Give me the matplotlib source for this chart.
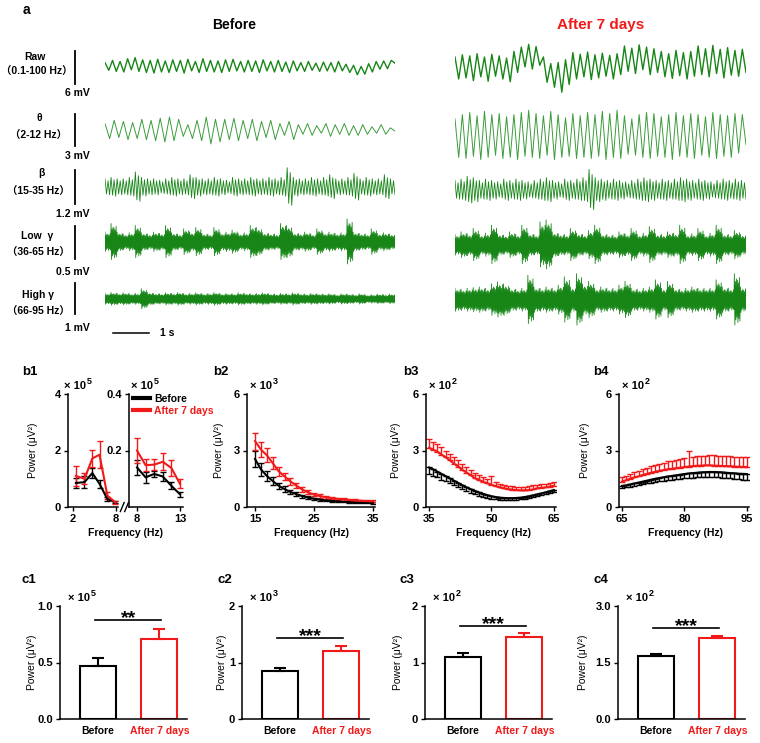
import numpy as np
import matplotlib
matplotlib.use("Agg")
import matplotlib.pyplot as plt
from matplotlib.lines import Line2D

plt.rcParams['font.family'] = ['Liberation Sans', 'Noto Sans CJK SC', 'DejaVu Sans']

# ---------------- data: panel a (traces, mV) ----------------
ROW_NAMES = ['Raw', 'θ', 'β', 'Low  γ', 'High γ']
ROW_BANDS = ['（0.1-100 Hz）', '（2-12 Hz）', '（15-35 Hz）', '（36-65 Hz）', '（66-95 Hz）']
SCALE_MV = [6, 3, 1.2, 0.5, 1]
SCALE_LABELS = ['6 mV', '3 mV', '1.2 mV', '0.5 mV', '1 mV']
TRACE_SECONDS = 8

# successive peak / trough values (mV)
raw_before = [0.8, -0.6, 1.2, -0.8, 1.0, -0.9, 1.5, -0.5, 1.7, -0.8, 1.3, -1.0, 1.2, -1.1, 1.4, -0.9,
              1.1, -1.0, 1.3, -0.8, 1.2, -1.1, 1.4, -0.7, 1.0, -1.0, 1.5, -0.8, 1.2, -0.9, 1.1, -1.0,
              1.3, -0.8, 1.4, -0.7, 1.0, -0.9, 1.2, -0.8, 1.1, -1.0, 1.3, -0.7, 1.0, -0.9, 1.2, -0.8,
              0.9, -1.0, 1.1, -0.7, 0.8, -0.8, 1.0, -0.6, 0.7, -0.8, 0.9, -0.7, 0.8, -0.9, 1.0, -0.7,
              0.5, -1.0, 0.3, -1.4, 0.1, -1.3, 0.6, -0.9, 1.0, -0.4, 1.1, -0.3, 1.2, 0.7]
raw_after = [2.0, -2.0, 2.4, -1.8, 2.2, -2.3, 2.6, -1.6, 2.0, -2.4, 2.5, -1.5, 2.2, -2.0, 1.8, -2.5,
             3.0, -0.8, 3.8, 0.2, 4.3, -0.2, 3.9, 0.5,
             2.0, -2.6, 0.8, -3.5, 1.0, -4.4, 1.5, -3.0,
             2.8, -2.0, 2.5, -1.6, 2.9, -2.1, 2.4, -1.8, 2.7, -1.5, 2.3, -2.0, 2.6, -1.2,
             4.0, -0.6, 3.6, -1.0, 4.2, -0.3, 3.8, -1.2, 3.5, -0.8,
             3.0, -1.6, 2.6, -1.9, 3.2, -1.4, 2.8, -2.0, 3.0, -1.5,
             4.0, -1.2, 3.5, -1.6, 4.1, -1.0, 3.4, -1.8, 3.7, -1.3, 3.2, -1.5, 3.4, -0.8]
theta_before = [0.6, -0.8, 0.9, -0.7, 0.8, -0.9, 0.7, -0.8, 1.0, -0.9, 0.9, -1.0, 1.1, -1.1, 1.2, -1.0,
                1.0, -0.6, 0.5, -0.8, 0.9, -1.0, 1.2, -1.3, 1.0, -1.1, 1.0, -0.9, 1.1, -1.0, 0.9, -0.8,
                1.0, -1.0, 0.8, -0.7, 0.9, -0.9, 0.6, -0.5, 0.8, -0.9, 0.5, -0.4, 0.6, -0.5, 0.4, -0.3,
                0.6, -0.6, 0.5, -0.4, 0.6, -0.5, 0.4, -0.5, 0.5, -0.4, 0.3, -0.3, 0.5, -0.4, 0.2, -0.1]
theta_after = [1.6, -2.0, 2.0, -2.1, 2.2, -1.9, 1.9, -2.2, 2.3, -2.0, 2.0, -1.8, 2.1, -2.1, 1.8, -2.0,
               2.0, -2.2, 2.2, -1.9, 2.4, -2.0, 2.1, -2.1, 1.9, -1.8, 2.3, -2.2, 2.0, -2.0, 1.7, -1.9,
               2.1, -2.1, 1.9, -2.0, 2.2, -2.1, 2.0, -1.9, 2.3, -2.2, 2.1, -2.0, 2.4, -2.1, 1.9, -1.7,
               1.6, -1.8, 2.0, -2.0, 2.2, -2.1, 2.1, -1.9, 1.8, -2.0, 2.0, -2.2, 2.2, -1.9, 1.9, -2.0,
               2.1, -2.1, 2.0, -1.8, 1.8, -2.0, 2.2, -2.1, 2.0, -1.9, 1.9, -2.0, 2.1, -1.6, 2.0, -0.8]
# amplitude envelopes (mV) of the fast bands, read segment by segment
beta_before = [0.3, 0.35, 0.3, 0.3, 0.35, 0.55, 0.35, 0.3, 0.3, 0.25, 0.3, 0.35, 0.3, 0.3, 0.45, 0.35,
               0.3, 0.3, 0.35, 0.3, 0.25, 0.35, 0.3, 0.3, 0.35, 0.3, 0.3, 0.35, 0.3, 0.35, 0.7, 0.35,
               0.3, 0.3, 0.35, 0.3, 0.35, 0.45, 0.3, 0.3, 0.35, 0.5, 0.3, 0.35, 0.3, 0.3, 0.45, 0.3]
beta_after = [0.35, 0.4, 0.5, 0.45, 0.35, 0.4, 0.35, 0.3, 0.4, 0.35, 0.4, 0.35, 0.3, 0.35, 0.4, 0.45,
              0.35, 0.3, 0.4, 0.35, 0.4, 0.45, 0.75, 0.45, 0.4, 0.35, 0.4, 0.35, 0.3, 0.35, 0.4, 0.45,
              0.4, 0.35, 0.4, 0.35, 0.4, 0.45, 0.4, 0.35, 0.4, 0.35, 0.3, 0.35, 0.4, 0.35, 0.4, 0.35]
lowg_before = [0.15, 0.28, 0.15, 0.12, 0.14, 0.25, 0.14, 0.12, 0.15, 0.13, 0.25, 0.14, 0.12, 0.2, 0.15, 0.22,
               0.13, 0.12, 0.22, 0.14, 0.15, 0.18, 0.13, 0.14, 0.25, 0.22, 0.14, 0.13, 0.12, 0.28, 0.25, 0.14,
               0.13, 0.15, 0.12, 0.2, 0.14, 0.15, 0.13, 0.14, 0.35, 0.15, 0.13, 0.12, 0.2, 0.13, 0.14, 0.12]
lowg_after = [0.16, 0.2, 0.17, 0.25, 0.16, 0.18, 0.3, 0.17, 0.15, 0.2, 0.16, 0.3, 0.18, 0.16, 0.35, 0.38,
              0.2, 0.17, 0.16, 0.25, 0.18, 0.16, 0.22, 0.3, 0.17, 0.16, 0.15, 0.2, 0.17, 0.25, 0.16, 0.18,
              0.28, 0.17, 0.16, 0.2, 0.18, 0.3, 0.16, 0.17, 0.25, 0.16, 0.18, 0.3, 0.17, 0.16, 0.22, 0.16]
highg_before = [0.18, 0.21, 0.18, 0.2, 0.17, 0.18, 0.33, 0.21, 0.18, 0.17, 0.2, 0.18, 0.21, 0.17, 0.18, 0.2,
                0.17, 0.18, 0.21, 0.17, 0.18, 0.17, 0.2, 0.18, 0.17, 0.18, 0.2, 0.17, 0.16, 0.18, 0.17, 0.2,
                0.17, 0.16, 0.18, 0.17, 0.16, 0.17, 0.14, 0.17, 0.16, 0.14, 0.17, 0.13, 0.14, 0.16, 0.14, 0.16]
highg_after = [0.38, 0.35, 0.38, 0.4, 0.42, 0.38, 0.52, 0.58, 0.52, 0.38, 0.35, 0.38, 0.8, 0.42, 0.38, 0.42,
               0.38, 0.48, 0.75, 0.42, 0.85, 0.52, 0.6, 0.38, 0.42, 0.38, 0.38, 0.48, 0.6, 0.38, 0.35, 0.38,
               0.42, 0.65, 0.38, 0.6, 0.38, 0.35, 0.38, 0.42, 0.38, 0.38, 0.38, 0.65, 0.42, 0.38, 0.85, 0.42]

# ---------------- data: panel b (power spectra) ----------------
b1_freq_lo = [2.4, 3.6, 4.7, 5.7, 6.8, 7.9]
b1_before_lo = [0.85, 0.88, 1.2, 0.82, 0.28, 0.17]
b1_before_lo_err = [0.18, 0.2, 0.18, 0.15, 0.06, 0.04]
b1_after_lo = [1.1, 1.0, 1.72, 1.85, 0.4, 0.17]
b1_after_lo_err = [0.35, 0.2, 0.3, 0.48, 0.12, 0.05]
b1_freq_hi = [8, 9, 10, 11, 12, 13]
b1_before_hi = [0.14, 0.105, 0.117, 0.108, 0.075, 0.045]
b1_before_hi_err = [0.025, 0.02, 0.012, 0.015, 0.012, 0.008]
b1_after_hi = [0.2, 0.148, 0.15, 0.16, 0.138, 0.082]
b1_after_hi_err = [0.045, 0.022, 0.02, 0.03, 0.03, 0.016]

b2_freq = list(range(15, 36))
b2_before = [2.55, 2.0, 1.65, 1.38, 1.13, 0.95, 0.8, 0.68, 0.58, 0.5,
             0.44, 0.39, 0.35, 0.32, 0.3, 0.28, 0.26, 0.24, 0.23, 0.22, 0.21]
b2_before_err = [0.42, 0.35, 0.28, 0.22, 0.17, 0.14, 0.12, 0.1, 0.08, 0.07,
                 0.06, 0.05, 0.05, 0.04, 0.04, 0.04, 0.03, 0.03, 0.03, 0.03, 0.03]
b2_after = [3.5, 3.05, 2.75, 2.33, 1.9, 1.62, 1.36, 1.14, 0.93, 0.78,
            0.66, 0.58, 0.52, 0.47, 0.43, 0.4, 0.37, 0.35, 0.33, 0.31, 0.3]
b2_after_err = [0.45, 0.4, 0.38, 0.3, 0.25, 0.2, 0.17, 0.15, 0.13, 0.11,
                0.1, 0.09, 0.08, 0.07, 0.06, 0.06, 0.05, 0.05, 0.05, 0.05, 0.05]

b3_freq = list(range(35, 66))
b3_before = [2.1, 2.0, 1.88, 1.76, 1.64, 1.52, 1.4, 1.28, 1.16, 1.05,
             0.95, 0.86, 0.77, 0.7, 0.63, 0.57, 0.53, 0.5, 0.48, 0.47,
             0.47, 0.48, 0.5, 0.53, 0.57, 0.62, 0.67, 0.72, 0.78, 0.84, 0.9]
b3_before_err = [0.35, 0.33, 0.31, 0.3, 0.28, 0.26, 0.25, 0.23, 0.22, 0.2,
                 0.19, 0.18, 0.17, 0.16, 0.15, 0.14, 0.13, 0.12, 0.12, 0.11,
                 0.11, 0.11, 0.1, 0.1, 0.1, 0.1, 0.1, 0.1, 0.1, 0.1, 0.1]
b3_after = [3.14, 3.05, 2.93, 2.78, 2.64, 2.48, 2.3, 2.15, 1.97, 1.83,
            1.69, 1.53, 1.44, 1.33, 1.26, 1.18, 1.11, 1.04, 0.99, 0.95,
            0.92, 0.9, 0.88, 0.88, 0.9, 0.93, 0.99, 1.02, 1.04, 1.08, 1.13]
b3_after_err = [0.45, 0.42, 0.4, 0.38, 0.36, 0.34, 0.33, 0.32, 0.3, 0.3,
                0.28, 0.27, 0.26, 0.25, 0.25, 0.45, 0.22, 0.2, 0.2, 0.18,
                0.18, 0.17, 0.17, 0.17, 0.2, 0.22, 0.2, 0.18, 0.18, 0.2, 0.2]

b4_freq = list(range(65, 96))
b4_before = [1.12, 1.15, 1.2, 1.25, 1.3, 1.35, 1.4, 1.45, 1.5, 1.54,
             1.58, 1.62, 1.65, 1.68, 1.72, 1.75, 1.78, 1.8, 1.82, 1.84,
             1.85, 1.86, 1.86, 1.85, 1.84, 1.82, 1.8, 1.79, 1.77, 1.76, 1.75]
b4_before_err = [0.1, 0.1, 0.12, 0.12, 0.13, 0.14, 0.15, 0.16, 0.17, 0.18,
                 0.19, 0.2, 0.2, 0.21, 0.22, 0.22, 0.23, 0.24, 0.25, 0.25,
                 0.26, 0.26, 0.27, 0.27, 0.28, 0.28, 0.28, 0.29, 0.29, 0.3, 0.3]
b4_after = [1.35, 1.42, 1.5, 1.57, 1.63, 1.7, 1.76, 1.82, 1.87, 1.92,
            1.96, 2.0, 2.03, 2.06, 2.09, 2.12, 2.15, 2.17, 2.19, 2.2,
            2.21, 2.21, 2.2, 2.19, 2.18, 2.17, 2.16, 2.15, 2.14, 2.13, 2.12]
b4_after_err = [0.22, 0.24, 0.26, 0.28, 0.3, 0.32, 0.33, 0.35, 0.37, 0.38,
                0.4, 0.42, 0.43, 0.45, 0.46, 0.47, 0.85, 0.5, 0.52, 0.53,
                0.52, 0.53, 0.54, 0.53, 0.52, 0.53, 0.54, 0.53, 0.54, 0.55, 0.55]

# ---------------- data: panel c (mean power) ----------------
GROUPS = ['Before', 'After 7 days']
c_means = [[0.47, 0.71], [0.85, 1.21], [1.09, 1.45], [1.68, 2.16]]
c_errs = [[0.07, 0.09], [0.06, 0.09], [0.07, 0.07], [0.04, 0.05]]
c_sig = ['**', '***', '***', '***']
c_exp = ['5', '3', '2', '2']
c_yticks = [[0.0, 0.5, 1.0], [0, 1, 2], [0, 1, 2], [0.0, 1.5, 3.0]]
c_yticklabels = [['0.0', '0.5', '1.0'], ['0', '1', '2'], ['0', '1', '2'], ['0.0', '1.5', '3.0']]

# ---------------- figure ----------------
W, H = 760, 743
fig = plt.figure(figsize=(W / 100, H / 100), dpi=100)
GREEN = '#178617'
GREEN_LIGHT = '#3a9c3a'
RED = '#f01a1a'
BLACK = '#000000'


def add_ax(x0, y0, x1, y1):
    return fig.add_axes([x0 / W, 1 - y1 / H, (x1 - x0) / W, (y1 - y0) / H])


def ftext(x, y, s, **kw):
    fig.text(x / W, 1 - y / H, s, **kw)


PAT_BETA = [1.0, -0.85, 0.75, -0.95]
PAT_GAMMA = [1.0, -0.95, 0.7, -0.75, 0.8, -0.65, 0.75, -0.85, 0.65, -0.7, 0.85, -0.8]


def expand(env, pat):
    return np.concatenate([a * np.array(pat) for a in env])


traces_before = [np.array(raw_before), np.array(theta_before), expand(beta_before, PAT_BETA),
                 expand(lowg_before, PAT_GAMMA), expand(highg_before, PAT_GAMMA)]
traces_after = [np.array(raw_after), np.array(theta_after), expand(beta_after, PAT_BETA),
                expand(lowg_after, PAT_GAMMA), expand(highg_after, PAT_GAMMA)]
px_per_mv = [5.5, 10.7, 27.5, 66, 31]
centers_before = [67, 130, 187, 242, 299]
centers_after = [68, 136, 190, 245, 300]
lws = [1.0, 0.7, 0.6, 0.6, 0.6]
cols = [GREEN, GREEN_LIGHT, GREEN, GREEN, GREEN]
name_pos = [(35, 57, 37, 72), (39, 118, 39, 136), (41, 173, 38, 192), (37, 236, 38, 253), (38, 295, 38, 312)]
scale_lab_pos = [(90, 93), (90, 156), (90, 214), (90, 272), (90, 328)]
HALF = 28

ftext(23, 10, 'a', fontsize=10, fontweight='bold', va='center')
ftext(234, 25, 'Before', fontsize=10, fontweight='bold', ha='center', va='center')
ftext(601, 25, 'After 7 days', fontsize=11, fontweight='bold', ha='center', va='center', color=RED)

for i in range(5):
    ppm = px_per_mv[i]
    for (x0, x1, cen, tr) in [(105, 395, centers_before[i], traces_before[i]),
                              (455, 746, centers_after[i], traces_after[i])]:
        ax = add_ax(x0, cen - HALF, x1, cen + HALF)
        t = np.linspace(0, TRACE_SECONDS, len(tr))
        ax.plot(t, tr, color=cols[i], lw=lws[i])
        ax.set_xlim(0, TRACE_SECONDS)
        ax.set_ylim(-HALF / ppm, HALF / ppm)
        ax.axis('off')
        if x0 == 105:
            tb = -30 / (290 / TRACE_SECONDS)
            ax.plot([tb, tb], [-SCALE_MV[i] / 2, SCALE_MV[i] / 2], color='k', lw=1.3, clip_on=False)
            if i == 4:
                yb = (cen - 333) / ppm
                t0 = 8 / (290 / TRACE_SECONDS)
                ax.plot([t0, t0 + 1], [yb, yb], color='k', lw=1.1, clip_on=False)
    nx, ny, bx, by = name_pos[i]
    ftext(nx, ny, ROW_NAMES[i], fontsize=7.5, fontweight='bold', ha='center', va='center')
    ftext(bx, by, ROW_BANDS[i], fontsize=7.5, fontweight='bold', ha='center', va='center')
    sx, sy = scale_lab_pos[i]
    ftext(sx, sy, SCALE_LABELS[i], fontsize=7.5, fontweight='bold', ha='right', va='center')
ftext(160, 333, '1 s', fontsize=7.5, fontweight='bold', ha='left', va='center')


def style(ax):
    for s in ['top', 'right']:
        ax.spines[s].set_visible(False)
    for s in ['left', 'bottom']:
        ax.spines[s].set_linewidth(1.1)
    ax.tick_params(direction='out', length=3, width=1.0, labelsize=8, pad=2)
    for lab in ax.get_xticklabels() + ax.get_yticklabels():
        lab.set_fontweight('bold')


def exp_label(ax_left_px, ax_top_px, e):
    ftext(ax_left_px + 1, ax_top_px - 8, '× 10', fontsize=8, fontweight='bold', ha='left', va='center')
    ftext(ax_left_px + 24, ax_top_px - 13, e, fontsize=6.5, fontweight='bold', ha='left', va='center')


def spectrum(ax, x, yb, eb, ya, ea, one_sided=False):
    kw = dict(lw=1.5, capsize=2.2, capthick=1.0, elinewidth=1.0)
    if one_sided:
        z = np.zeros(len(eb))
        ax.errorbar(x, yb, yerr=[eb, z], color=BLACK, **kw)
        ax.errorbar(x, ya, yerr=[z, ea], color=RED, **kw)
    else:
        ax.errorbar(x, yb, yerr=eb, color=BLACK, **kw)
        ax.errorbar(x, ya, yerr=ea, color=RED, **kw)


B_TOP, B_BOT = 394, 507
# b1
b1L = add_ax(68, B_TOP, 118, B_BOT)
spectrum(b1L, b1_freq_lo, b1_before_lo, b1_before_lo_err, b1_after_lo, b1_after_lo_err)
b1L.set_xlim(1.3, 8.28); b1L.set_ylim(0, 4)
b1L.set_xticks([2, 8]); b1L.set_yticks([0, 2, 4])
style(b1L)
b1R = add_ax(129, B_TOP, 183, B_BOT)
spectrum(b1R, b1_freq_hi, b1_before_hi, b1_before_hi_err, b1_after_hi, b1_after_hi_err)
b1R.set_xlim(7.07, 13.35); b1R.set_ylim(0, 0.4)
b1R.set_xticks([8, 13]); b1R.set_yticks([0.2, 0.4]); b1R.set_yticklabels(['0.2', '0.4'])
style(b1R)
for dx in (-0.16, -0.08):
    b1R.plot([dx, dx + 0.07], [-0.04, 0.04], transform=b1R.transAxes, color='k', lw=1.0, clip_on=False)
exp_label(63, B_TOP, '5')
exp_label(130, B_TOP, '5')
leg = fig.legend([Line2D([], [], color=BLACK, lw=3), Line2D([], [], color=RED, lw=3)],
                 ['Before', 'After 7 days'], loc='upper left', bbox_to_anchor=(133 / W, 1 - 394 / H),
                 frameon=False, handlelength=1.6, handletextpad=0.4, labelspacing=0.15, borderpad=0,
                 borderaxespad=0, prop={'size': 7.5, 'weight': 'bold'})
leg.get_texts()[1].set_color(RED)

# b2-b4
b2 = add_ax(247, B_TOP, 375, B_BOT)
spectrum(b2, b2_freq, b2_before, b2_before_err, b2_after, b2_after_err)
b2.set_xlim(13.64, 35.34); b2.set_ylim(0, 6); b2.set_xticks([15, 25, 35]); b2.set_yticks([0, 3, 6])
style(b2)
exp_label(249, B_TOP, '3')
b3 = add_ax(426, B_TOP, 556, B_BOT)
spectrum(b3, b3_freq, b3_before, b3_before_err, b3_after, b3_after_err, one_sided=True)
b3.set_xlim(34.28, 65.5); b3.set_ylim(0, 6); b3.set_xticks([35, 50, 65]); b3.set_yticks([0, 3, 6])
style(b3)
exp_label(428, B_TOP, '2')
b4 = add_ax(619, B_TOP, 749, B_BOT)
spectrum(b4, b4_freq, b4_before, b4_before_err, b4_after, b4_after_err, one_sided=True)
b4.set_xlim(64.28, 95.5); b4.set_ylim(0, 6); b4.set_xticks([65, 80, 95]); b4.set_yticks([0, 3, 6])
style(b4)
exp_label(621, B_TOP, '2')

for (lx, lab), cx, ylx in zip([(22, 'b1'), (213, 'b2'), (403, 'b3'), (593, 'b4')],
                              [125, 312, 493, 686], [33, 219, 396, 585]):
    ftext(lx, 372, lab, fontsize=9.5, fontweight='bold', va='center')
    ftext(cx, 533, 'Frequency (Hz)', fontsize=7.5, fontweight='bold', ha='center', va='center')
    ftext(ylx, 450, 'Power (μV²)', fontsize=7.5, rotation=90, ha='center', va='center')

# c panels
C_TOP, C_BOT = 606, 719
c_left = [60, 242, 425, 618]
c_lab = [(21, 'c1'), (217, 'c2'), (400, 'c3'), (593, 'c4')]
c_ylab_x = [32, 222, 398, 583]
sig_y_px = [620, 638, 626, 628]
for k in range(4):
    ax = add_ax(c_left[k], C_TOP, c_left[k] + 127, C_BOT)
    ymax = c_yticks[k][-1]
    ax.bar([0, 1], c_means[k], width=0.59, facecolor='white', edgecolor=[BLACK, RED], lw=1.5)
    for j, col in enumerate([BLACK, RED]):
        ax.errorbar([j], [c_means[k][j]], yerr=[[0], [c_errs[k][j]]], fmt='none', ecolor=col,
                    elinewidth=1.5, capsize=4.5, capthick=1.5)
    ax.set_xlim(-0.62, 1.45)
    ax.set_ylim(0, ymax)
    ax.set_yticks(c_yticks[k]); ax.set_yticklabels(c_yticklabels[k])
    ax.set_xticks([0, 1]); ax.set_xticklabels(GROUPS)
    style(ax)
    ax.tick_params(axis='x', length=0, pad=5, labelsize=7.5)
    ax.get_xticklabels()[1].set_color(RED)
    ys = (C_BOT - sig_y_px[k]) / (C_BOT - C_TOP) * ymax
    ax.plot([-0.05, 1.03], [ys, ys], color='k', lw=1.2, clip_on=False)
    ax.annotate(c_sig[k], xy=(0.49, ys), xytext=(0, -2.5), textcoords='offset points',
                ha='center', va='baseline', fontsize=14, fontweight='bold')
    exp_label(c_left[k] + 7, C_TOP + 0, c_exp[k])
    ftext(c_lab[k][0], 580, c_lab[k][1], fontsize=9.5, fontweight='bold', va='center')
    ftext(c_ylab_x[k], 662, 'Power (μV²)', fontsize=7.5, rotation=90, ha='center', va='center')

fig.savefig('out.png', dpi=100)
